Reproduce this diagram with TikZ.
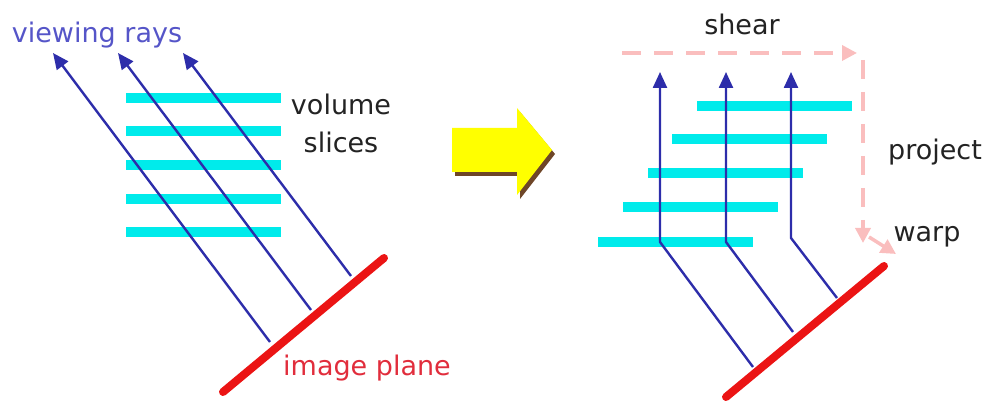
\documentclass[tikz,border=0pt]{standalone}
\usepackage{fontspec}
\setmainfont{DejaVu Sans}
\usetikzlibrary{arrows.meta}
\definecolor{rayblue}{RGB}{45,45,170}
\definecolor{raytext}{RGB}{85,85,200}
\definecolor{slicecyan}{RGB}{0,235,235}
\definecolor{planered}{RGB}{235,20,20}
\definecolor{planetext}{RGB}{225,45,60}
\definecolor{stagepink}{RGB}{250,190,190}
\definecolor{labelgray}{RGB}{35,35,35}
\definecolor{bigyellow}{RGB}{255,255,0}
\definecolor{bigshadow}{RGB}{110,70,40}

\begin{document}
\begin{tikzpicture}[x=1pt, y=-1pt,
    ray/.style={->, >={Triangle[length=16pt,width=14pt]}, draw=rayblue, line width=2.4pt},
    slice/.style={draw=slicecyan, line width=10pt},
    plane/.style={draw=planered, line width=8pt, line cap=round},
    stage/.style={-{Triangle[length=15pt,width=15pt]}, draw=stagepink, line width=3.5pt, dash pattern=on 19pt off 13pt},
    lbl/.style={font=\fontsize{27}{32}\selectfont, text=labelgray, inner sep=0pt, anchor=base}]
      \useasboundingbox (0,0) rectangle (990,403);

      % left: slices and oblique rays
      \foreach \y in {98,131,165,199,232}
        \draw[slice] (126,\y) -- (281,\y);
      \coordinate (lb1) at (270,342);
      \coordinate (lb2) at (311,310);
      \coordinate (lb3) at (351,276);
      \coordinate (lt1) at (53,53);
      \coordinate (lt2) at (118,53);
      \coordinate (lt3) at (183,53);
      \path (lb1) edge[ray] (lt1)
            (lb2) edge[ray] (lt2)
            (lb3) edge[ray] (lt3);
      \coordinate (lp1) at (223,392);
      \coordinate (lp2) at (384,258);
      \draw[plane] (lp1) -- (lp2);

      \node[lbl, text=raytext] (viewlbl) at (97,43) {viewing rays};
      \node[lbl] (vollbl) at (341,115) {volume};
      \node[lbl] (slclbl) at ([yshift=-38pt]vollbl.base) {slices};
      \node[lbl, text=planetext] (planelbl) at (367,375) {image plane};

      % the big arrow
      \begin{scope}[shift={(3,4)}]
        \fill[bigshadow] (452,128) -- (517,128) -- (517,108) -- (552,150) -- (517,195) -- (517,172) -- (452,172) -- cycle;
      \end{scope}
      \fill[bigyellow] (452,128) -- (517,128) -- (517,108) -- (552,150) -- (517,195) -- (517,172) -- (452,172) -- cycle;

      % right: sheared slices and straight rays
      \foreach \x/\y in {697/106, 672/139, 648/173, 623/207, 598/242}
        \draw[slice] (\x,\y) -- ++(155,0);
      \coordinate (rb1) at (753,367);
      \coordinate (rb2) at (793,332);
      \coordinate (rb3) at (837,298);
      \coordinate (rk1) at (660,242);
      \coordinate (rk2) at (726,242);
      \coordinate (rk3) at (791,238);
      \coordinate (rt1) at (660,72);
      \coordinate (rt2) at (726,72);
      \coordinate (rt3) at (791,72);
      \draw[ray] (rb1) -- (rk1) -- (rt1);
      \draw[ray] (rb2) -- (rk2) -- (rt2);
      \draw[ray] (rb3) -- (rk3) -- (rt3);
      \coordinate (rp1) at (726,397);
      \coordinate (rp2) at (884,266);
      \draw[plane] (rp1) -- (rp2);

      \coordinate (sh1) at (622,53);
      \coordinate (sh2) at (857,53);
      \coordinate (pj1) at (863,60);
      \coordinate (pj2) at (863,243);
      \coordinate (wp1) at (869,237);
      \coordinate (wp2) at (896,254);
      \path (sh1) edge[stage] (sh2)
            (pj1) edge[stage] (pj2)
            (wp1) edge[stage] (wp2);

      \node[lbl] (shearlbl) at (742,35) {shear};
      \node[lbl] (projlbl) at (935,160) {project};
      \node[lbl] (warplbl) at (927,242) {warp};
\end{tikzpicture}
\end{document}
